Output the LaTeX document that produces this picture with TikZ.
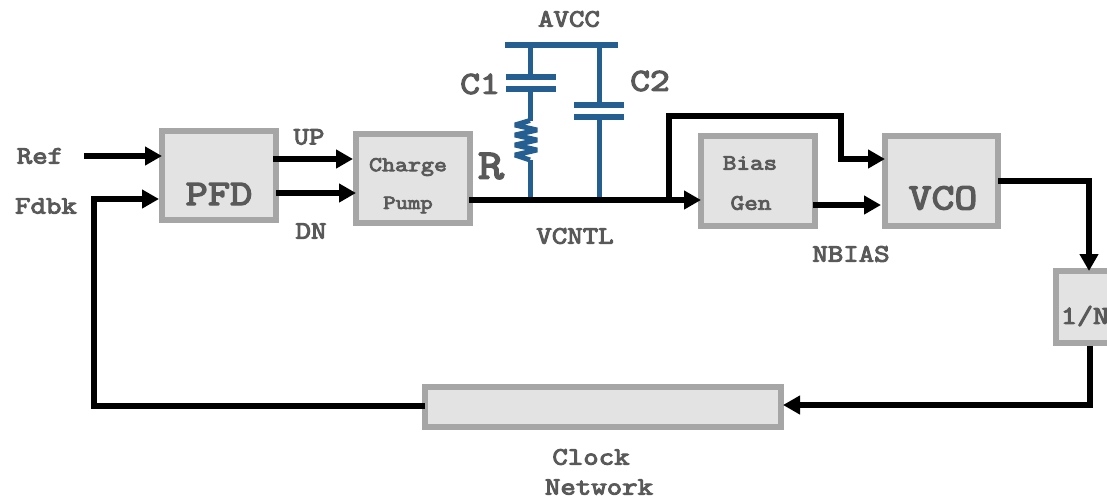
\documentclass[tikz,border=0pt]{standalone}
\usepackage{fontspec}
\newfontfamily\slab{Latin Modern Mono}[FakeStretch=1.2,FakeBold=4]
\usetikzlibrary{arrows.meta}
\definecolor{txt}{HTML}{595959}
\definecolor{bfill}{HTML}{E3E3E3}
\definecolor{bline}{HTML}{A6A6A6}
\definecolor{cblue}{HTML}{255E91}
\newcommand{\fs}[1]{\slab\fontsize{#1}{#1}\selectfont}
\tikzset{
  x=1pt,y=-1pt,
  blockbox/.style={draw=bline,fill=bfill,line width=6pt,outer sep=0pt,inner sep=0pt},
  wire/.style={draw=black,line width=6pt,line join=miter},
  arrowwire/.style={wire,-{Triangle[length=17pt,width=18pt]}},
  lbl/.style={text=txt,inner sep=0pt,anchor=center},
  bluewire/.style={draw=cblue,line width=5pt},
  plate/.style={draw=cblue,line width=6pt}
}
\begin{document}
\begin{tikzpicture}
\useasboundingbox (0,0) rectangle (1107,499);
\clip (0,0) rectangle (1107,499);
% blocks
\node[blockbox,minimum width=114pt,minimum height=89pt] (pfd) at (219,175.5) {};
\node[blockbox,minimum width=114pt,minimum height=89pt] (cp) at (413,178.5) {};
\node[blockbox,minimum width=114pt,minimum height=90pt] (bias) at (758,181) {};
\node[blockbox,minimum width=113pt,minimum height=90pt] (vco) at (941.5,181) {};
\node[blockbox,minimum width=80pt,minimum height=72pt] (divn) at (1096,307) {};
\node[blockbox,minimum width=356pt,minimum height=40pt] (clk) at (603,407) {};
% labels
\node[lbl,font=\fs{25}] (tref) at (40,156) {Ref};
\node[lbl,font=\fs{25}] (tfdbk) at (46,206) {Fdbk};
\node[lbl,font=\fs{36}] (tpfd) at (219,194) {PFD};
\node[lbl,font=\fs{25}] (tup) at (309,137) {UP};
\node[lbl,font=\fs{25}] (tdn) at (311,231) {DN};
\node[lbl,font=\fs{21}] (tcharge) at (408,167) {Charge};
\node[lbl,font=\fs{20}] (tpump) at (408,205) {Pump};
\node[lbl,font=\fs{42}] (tr) at (491,166) {R};
\node[lbl,font=\fs{32}] (tc1) at (480,84) {C1};
\node[lbl,font=\fs{32}] (tc2) at (650,81) {C2};
\node[lbl,font=\fs{25}] (tavcc) at (569,19) {AVCC};
\node[lbl,font=\fs{25}] (tvcntl) at (575,236) {VCNTL};
\node[lbl,font=\fs{22}] (tbias) at (750,163) {Bias};
\node[lbl,font=\fs{22}] (tgen) at (751,203) {Gen};
\node[lbl,font=\fs{25}] (tnbias) at (851,254) {NBIAS};
\node[lbl,font=\fs{37}] (tvco) at (943,198) {VCO};
\node[lbl,font=\fs{26}] (tdiv) at (1085,316) {1/N};
\node[lbl,font=\fs{25}] (tclock) at (591,457) {Clock};
\node[lbl,font=\fs{25}] (tnet) at (599,487) {Network};
% loop filter
\coordinate (railL) at (505,45);
\coordinate (railR) at (618,45);
\coordinate (oneTop) at (530,45);
\coordinate (oneA) at (530,77);
\coordinate (oneB) at (530,89);
\coordinate (resTop) at (530,120.5);
\coordinate (resBot) at (530,160);
\coordinate (oneGnd) at (530,200);
\coordinate (twoTop) at (599,45);
\coordinate (twoA) at (599,105);
\coordinate (twoB) at (599,117);
\coordinate (twoGnd) at (599,200);
\draw[plate] (railL) -- (railR);
\draw[bluewire] (oneTop) -- (oneA);
\draw[plate] (506,77) -- (556,77);
\draw[plate] (506,89) -- (556,89);
\draw[bluewire] (oneB) -- (resTop);
\draw[bluewire,line join=bevel] (resTop) -- (515,125) -- (537,130) -- (515,135) -- (537,140) -- (515,145) -- (537,150) -- (515,155) -- (resBot);
\draw[bluewire] (resBot) -- (oneGnd);
\draw[bluewire] (twoTop) -- (twoA);
\draw[plate] (574,105) -- (624,105);
\draw[plate] (574,117) -- (624,117);
\draw[bluewire] (twoB) -- (twoGnd);
% connectors
\coordinate (refin) at (84,156);
\draw[arrowwire] (refin) -- (pfd.west |- refin);
\draw[arrowwire] (clk.west |- 0,406) -- (94,406) -- (94,199) -- (159,199);
\draw[arrowwire] (273,159) -- (353,159);
\draw[arrowwire] (276,193) -- (356,193);
\draw[arrowwire] (469,200) -- (bias.west |- 0,200);
\draw[arrowwire] (669,200) -- (669,116) -- (841,116) -- (841,159) -- (885,159);
\draw[arrowwire] (813,205) -- (881,205);
\draw[arrowwire] (998,181) -- (1089,181) -- (1089,271);
\draw[arrowwire] (1090,346) -- (1090,405) -- (783,405);
\end{tikzpicture}
\end{document}
